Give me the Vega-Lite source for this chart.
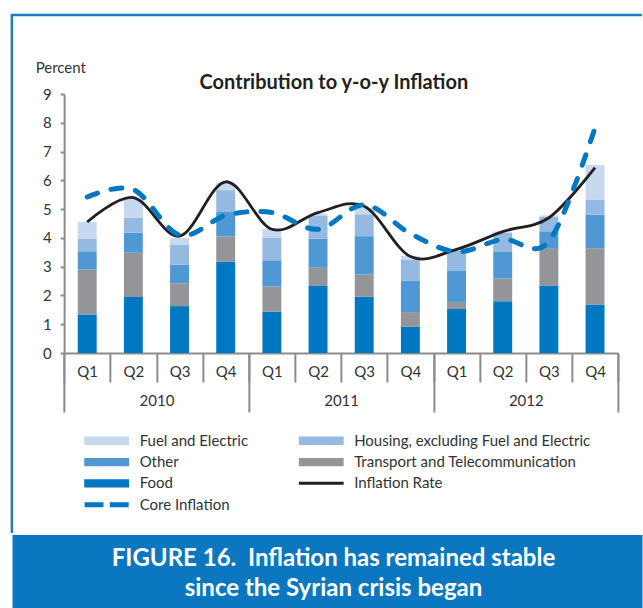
{
  "$schema": "https://vega.github.io/schema/vega-lite/v6.json",
  "padding": {"left": 10.5, "top": 13, "right": 0, "bottom": 0},
  "background": "white",
  "config": {"font": "Lato"},
  "resolve": {"scale": {"color": "independent"}, "legend": {"color": "independent"}},
  "datasets": {
    "bars": [
      {"period": "2010-Q1", "series": "Food", "k": 1, "value": 1.34},
      {"period": "2010-Q1", "series": "Transport and Telecommunication", "k": 2, "value": 1.56},
      {"period": "2010-Q1", "series": "Other", "k": 3, "value": 0.64},
      {"period": "2010-Q1", "series": "Housing, excluding Fuel and Electric", "k": 4, "value": 0.43},
      {"period": "2010-Q1", "series": "Fuel and Electric", "k": 5, "value": 0.58},
      {"period": "2010-Q2", "series": "Food", "k": 1, "value": 1.95},
      {"period": "2010-Q2", "series": "Transport and Telecommunication", "k": 2, "value": 1.53},
      {"period": "2010-Q2", "series": "Other", "k": 3, "value": 0.70},
      {"period": "2010-Q2", "series": "Housing, excluding Fuel and Electric", "k": 4, "value": 0.52},
      {"period": "2010-Q2", "series": "Fuel and Electric", "k": 5, "value": 0.65},
      {"period": "2010-Q3", "series": "Food", "k": 1, "value": 1.63},
      {"period": "2010-Q3", "series": "Transport and Telecommunication", "k": 2, "value": 0.79},
      {"period": "2010-Q3", "series": "Other", "k": 3, "value": 0.65},
      {"period": "2010-Q3", "series": "Housing, excluding Fuel and Electric", "k": 4, "value": 0.70},
      {"period": "2010-Q3", "series": "Fuel and Electric", "k": 5, "value": 0.23},
      {"period": "2010-Q4", "series": "Food", "k": 1, "value": 3.17},
      {"period": "2010-Q4", "series": "Transport and Telecommunication", "k": 2, "value": 0.88},
      {"period": "2010-Q4", "series": "Other", "k": 3, "value": 0.85},
      {"period": "2010-Q4", "series": "Housing, excluding Fuel and Electric", "k": 4, "value": 0.76},
      {"period": "2010-Q4", "series": "Fuel and Electric", "k": 5, "value": 0.26},
      {"period": "2011-Q1", "series": "Food", "k": 1, "value": 1.43},
      {"period": "2011-Q1", "series": "Transport and Telecommunication", "k": 2, "value": 0.88},
      {"period": "2011-Q1", "series": "Other", "k": 3, "value": 0.91},
      {"period": "2011-Q1", "series": "Housing, excluding Fuel and Electric", "k": 4, "value": 0.79},
      {"period": "2011-Q1", "series": "Fuel and Electric", "k": 5, "value": 0.32},
      {"period": "2011-Q2", "series": "Food", "k": 1, "value": 2.33},
      {"period": "2011-Q2", "series": "Transport and Telecommunication", "k": 2, "value": 0.63},
      {"period": "2011-Q2", "series": "Other", "k": 3, "value": 1.01},
      {"period": "2011-Q2", "series": "Housing, excluding Fuel and Electric", "k": 4, "value": 0.81},
      {"period": "2011-Q2", "series": "Fuel and Electric", "k": 5, "value": 0.06},
      {"period": "2011-Q3", "series": "Food", "k": 1, "value": 1.95},
      {"period": "2011-Q3", "series": "Transport and Telecommunication", "k": 2, "value": 0.78},
      {"period": "2011-Q3", "series": "Other", "k": 3, "value": 1.33},
      {"period": "2011-Q3", "series": "Housing, excluding Fuel and Electric", "k": 4, "value": 0.76},
      {"period": "2011-Q3", "series": "Fuel and Electric", "k": 5, "value": 0.23},
      {"period": "2011-Q4", "series": "Food", "k": 1, "value": 0.91},
      {"period": "2011-Q4", "series": "Transport and Telecommunication", "k": 2, "value": 0.51},
      {"period": "2011-Q4", "series": "Other", "k": 3, "value": 1.10},
      {"period": "2011-Q4", "series": "Housing, excluding Fuel and Electric", "k": 4, "value": 0.73},
      {"period": "2011-Q4", "series": "Fuel and Electric", "k": 5, "value": 0.12},
      {"period": "2012-Q1", "series": "Food", "k": 1, "value": 1.53},
      {"period": "2012-Q1", "series": "Transport and Telecommunication", "k": 2, "value": 0.24},
      {"period": "2012-Q1", "series": "Other", "k": 3, "value": 1.10},
      {"period": "2012-Q1", "series": "Housing, excluding Fuel and Electric", "k": 4, "value": 0.70},
      {"period": "2012-Q1", "series": "Fuel and Electric", "k": 5, "value": 0.05},
      {"period": "2012-Q2", "series": "Food", "k": 1, "value": 1.80},
      {"period": "2012-Q2", "series": "Transport and Telecommunication", "k": 2, "value": 0.79},
      {"period": "2012-Q2", "series": "Other", "k": 3, "value": 0.92},
      {"period": "2012-Q2", "series": "Housing, excluding Fuel and Electric", "k": 4, "value": 0.67},
      {"period": "2012-Q2", "series": "Fuel and Electric", "k": 5, "value": 0.04},
      {"period": "2012-Q3", "series": "Food", "k": 1, "value": 2.33},
      {"period": "2012-Q3", "series": "Transport and Telecommunication", "k": 2, "value": 1.29},
      {"period": "2012-Q3", "series": "Other", "k": 3, "value": 0.61},
      {"period": "2012-Q3", "series": "Housing, excluding Fuel and Electric", "k": 4, "value": 0.51},
      {"period": "2012-Q3", "series": "Fuel and Electric", "k": 5, "value": 0.04},
      {"period": "2012-Q4", "series": "Food", "k": 1, "value": 1.68},
      {"period": "2012-Q4", "series": "Transport and Telecommunication", "k": 2, "value": 1.96},
      {"period": "2012-Q4", "series": "Other", "k": 3, "value": 1.17},
      {"period": "2012-Q4", "series": "Housing, excluding Fuel and Electric", "k": 4, "value": 0.51},
      {"period": "2012-Q4", "series": "Fuel and Electric", "k": 5, "value": 1.21}
    ],
    "lines": [
      {"period": "2010-Q1", "series": "Inflation Rate", "value": 4.55},
      {"period": "2010-Q2", "series": "Inflation Rate", "value": 5.40},
      {"period": "2010-Q3", "series": "Inflation Rate", "value": 4.06},
      {"period": "2010-Q4", "series": "Inflation Rate", "value": 5.95},
      {"period": "2011-Q1", "series": "Inflation Rate", "value": 4.30},
      {"period": "2011-Q2", "series": "Inflation Rate", "value": 4.88},
      {"period": "2011-Q3", "series": "Inflation Rate", "value": 5.10},
      {"period": "2011-Q4", "series": "Inflation Rate", "value": 3.35},
      {"period": "2012-Q1", "series": "Inflation Rate", "value": 3.60},
      {"period": "2012-Q2", "series": "Inflation Rate", "value": 4.22},
      {"period": "2012-Q3", "series": "Inflation Rate", "value": 4.70},
      {"period": "2012-Q4", "series": "Inflation Rate", "value": 6.44},
      {"period": "2010-Q1", "series": "Core Inflation", "value": 5.42},
      {"period": "2010-Q2", "series": "Core Inflation", "value": 5.68},
      {"period": "2010-Q3", "series": "Core Inflation", "value": 4.10},
      {"period": "2010-Q4", "series": "Core Inflation", "value": 4.78},
      {"period": "2011-Q1", "series": "Core Inflation", "value": 4.88},
      {"period": "2011-Q2", "series": "Core Inflation", "value": 4.30},
      {"period": "2011-Q3", "series": "Core Inflation", "value": 5.15},
      {"period": "2011-Q4", "series": "Core Inflation", "value": 4.15},
      {"period": "2012-Q1", "series": "Core Inflation", "value": 3.52},
      {"period": "2012-Q2", "series": "Core Inflation", "value": 3.95},
      {"period": "2012-Q3", "series": "Core Inflation", "value": 3.88},
      {"period": "2012-Q4", "series": "Core Inflation", "value": 7.83}
    ],
    "years": [{"year": "2010"}, {"year": "2011"}, {"year": "2012"}],
    "caption": [{"text": "FIGURE 16.\u00a0 Inflation has remained stable\nsince the Syrian crisis began"}]
  },
  "vconcat": [
    {
      "width": 630,
      "height": 518,
      "view": {"stroke": "#1a7dc4", "strokeWidth": 2.5, "strokeDash": [630, 1148, 518], "fill": null},
      "title": {"text": "Contribution to y-o-y Inflation", "fontSize": 20, "fontWeight": "bold", "color": "#231f20", "anchor": "middle", "frame": "group", "dx": 7, "offset": -78, "font": "Lato"},
      "resolve": {"scale": {"x": "independent"}, "axis": {"x": "independent"}},
      "layer": [
        {
          "layer": [
            {
              "data": {"name": "bars"},
              "mark": {"type": "bar", "width": {"band": 0.41}},
              "encoding": {
                "x": {
                  "field": "period", "type": "ordinal", "sort": null,
                  "scale": {"paddingInner": 0, "paddingOuter": 0, "range": [52.25, 606.25]},
                  "axis": {
                    "orient": "bottom", "offset": -180, "title": null, "labelExpr": "substring(datum.label, 5)",
                    "tickBand": "extent", "tickSize": 29, "tickColor": "#8c8c8c", "tickWidth": 2,
                    "domainColor": "#8c8c8c", "domainWidth": 2,
                    "labelFontSize": 15, "labelColor": "#333333", "labelPadding": -18, "labelAngle": 0
                  }
                },
                "y": {
                  "field": "value", "type": "quantitative", "stack": "zero",
                  "scale": {"domain": [0, 9], "nice": false, "range": [338, 79]},
                  "axis": {
                    "offset": -52.25, "format": "d",
                    "title": "Percent", "titleAngle": 0, "titleX": -29, "titleY": 52, "titleAlign": "left",
                    "titleBaseline": "middle", "titleFontSize": 15, "titleFontWeight": "normal", "titleColor": "#333333",
                    "values": [0, 1, 2, 3, 4, 5, 6, 7, 8, 9], "labelOverlap": false, "grid": false,
                    "tickSize": 4, "tickColor": "#8c8c8c", "tickWidth": 2, "domainColor": "#8c8c8c", "domainWidth": 2,
                    "labelFontSize": 15, "labelColor": "#333333", "labelPadding": 9
                  }
                },
                "order": {"field": "k", "type": "quantitative", "sort": "ascending"},
                "color": {
                  "field": "series", "type": "nominal",
                  "scale": {
                    "domain": ["Fuel and Electric", "Housing, excluding Fuel and Electric", "Other", "Transport and Telecommunication", "Food", "Inflation Rate", "Core Inflation"],
                    "range": ["#c6d9f1", "#95b9e1", "#4f98d4", "#939598", "#0077c1", "#231f20", "#0077c1"]
                  },
                  "legend": {
                    "title": null, "orient": "none", "legendX": 72.25, "legendY": 417.75, "columns": 2,
                    "direction": "horizontal", "labelLimit": 400, "padding": 0, "clipHeight": 16,
                    "columnPadding": 50.5, "rowPadding": 5.3, "labelFontSize": 15, "labelColor": "#333333", "labelOffset": 10.5,
                    "symbolSize": 2025, "symbolStrokeWidth": 0, "symbolType": "M-1,-0.184H1V0.184H-1Z",
                    "encode": {
                      "symbols": {
                        "update": {
                          "shape": {"signal": "datum.value === 'Inflation Rate' ? 'M-1,-0.067H1V0.067H-1Z' : datum.value === 'Core Inflation' ? 'M-0.98,-0.111H-0.14V0.111H-0.98ZM0.14,-0.111H0.98V0.111H0.14Z' : 'M-1,-0.184H1V0.184H-1Z'"},
                          "fill": {"signal": "datum.value === 'Fuel and Electric' ? '#c6d9f1' : datum.value === 'Housing, excluding Fuel and Electric' ? '#95b9e1' : datum.value === 'Other' ? '#4f98d4' : datum.value === 'Transport and Telecommunication' ? '#939598' : datum.value === 'Inflation Rate' ? '#231f20' : '#0077c1'"},
                          "fillOpacity": {"value": 1},
                          "strokeWidth": {"value": 0},
                          "opacity": {"value": 1}
                        }
                      }
                    }
                  }
                }
              }
            },
            {
              "data": {"name": "lines"},
              "transform": [{"filter": "datum.series === 'Inflation Rate'"}],
              "mark": {"type": "line", "interpolate": "cardinal", "strokeWidth": 2.8},
              "encoding": {
                "x": {"field": "period", "type": "ordinal", "sort": null},
                "y": {"field": "value", "type": "quantitative"},
                "color": {"field": "series", "type": "nominal"}
              }
            },
            {
              "data": {"name": "lines"},
              "transform": [{"filter": "datum.series === 'Core Inflation'"}],
              "mark": {"type": "line", "interpolate": "cardinal", "strokeWidth": 5, "strokeDash": [11, 14], "strokeCap": "round"},
              "encoding": {
                "x": {"field": "period", "type": "ordinal", "sort": null},
                "y": {"field": "value", "type": "quantitative"},
                "color": {"field": "series", "type": "nominal"}
              }
            }
          ]
        },
        {
          "data": {"name": "years"},
          "mark": {"type": "rule", "opacity": 0},
          "encoding": {
            "x": {
              "field": "year", "type": "ordinal",
              "scale": {"paddingInner": 0, "paddingOuter": 0, "range": [52.25, 606.25]},
              "axis": {
                "orient": "bottom", "offset": -180, "title": null, "domain": false, "tickBand": "extent", "tickSize": 59,
                "tickColor": "#8c8c8c", "tickWidth": 2, "labelFontSize": 15, "labelColor": "#333333",
                "labelPadding": -19, "labelAngle": 0
              }
            }
          }
        }
      ]
    },
    {
      "width": 630,
      "height": 74,
      "view": {"fill": "#0a77c0", "stroke": null},
      "data": {"name": "caption"},
      "mark": {"type": "text", "lineBreak": "\n", "font": "Lato", "fontSize": 24, "fontWeight": "bold", "color": "white", "baseline": "middle", "align": "center", "lineHeight": 30, "dy": -13, "dx": 6},
      "encoding": {"text": {"field": "text", "type": "nominal"}}
    }
  ],
  "spacing": 0,
  "center": true
}
